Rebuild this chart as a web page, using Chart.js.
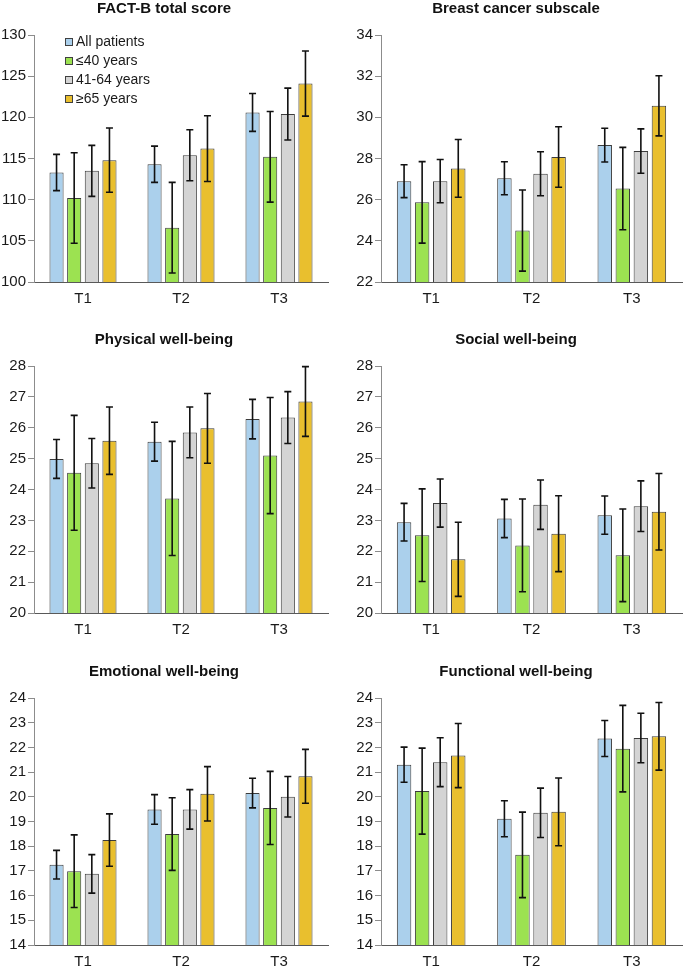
<!DOCTYPE html>
<html>
<head>
<meta charset="utf-8">
<script src="https://cdn.jsdelivr.net/npm/chart.js@4/dist/chart.umd.min.js"></script>
<style>
  body { margin: 0; background: #fff; overflow: hidden; width: 685px; height: 972px; position: relative; }
  canvas { position: absolute; }
</style>
</head>
<body>
<script>
// Categories and groups
const timepoints = ['T1', 'T2', 'T3'];
const groups = ['All patients', '≤40 years', '41-64 years', '≥65 years'];

// Means per group (rows) at T1, T2, T3, and the error bar half-lengths
const totalMean = [[113.3, 114.3, 120.6], [110.2, 106.6, 115.2], [113.5, 115.4, 120.4], [114.8, 116.2, 124.1]];
const totalErr = [[2.2, 2.2, 2.3], [5.5, 5.5, 5.5], [3.1, 3.1, 3.15], [3.9, 4.0, 3.95]];

const breastMean = [[26.9, 27.04, 28.65], [25.87, 24.5, 26.54], [26.9, 27.26, 28.36], [27.52, 28.07, 30.56]];
const breastErr = [[0.8, 0.8, 0.82], [1.98, 1.97, 2.0], [1.05, 1.07, 1.08], [1.4, 1.47, 1.46]];

const physicalMean = [[24.99, 25.55, 26.28], [24.54, 23.71, 25.1], [24.85, 25.85, 26.33], [25.58, 25.98, 26.85]];
const physicalErr = [[0.63, 0.63, 0.64], [1.86, 1.85, 1.88], [0.8, 0.82, 0.84], [1.09, 1.13, 1.13]];

const socialMean = [[22.94, 23.06, 23.17], [22.52, 22.19, 21.87], [23.56, 23.51, 23.46], [21.74, 22.57, 23.28]];
const socialErr = [[0.61, 0.62, 0.62], [1.5, 1.5, 1.5], [0.78, 0.8, 0.82], [1.2, 1.23, 1.24]];

const emotionalMean = [[17.25, 19.49, 20.15], [16.99, 18.49, 19.55], [16.88, 19.49, 20.0], [18.25, 20.12, 20.83]];
const emotionalErr = [[0.58, 0.6, 0.6], [1.47, 1.47, 1.48], [0.78, 0.8, 0.82], [1.06, 1.1, 1.09]];

const functionalMean = [[21.3, 19.11, 22.36], [20.23, 17.65, 21.95], [21.4, 19.35, 22.38], [21.67, 19.39, 22.45]];
const functionalErr = [[0.71, 0.73, 0.73], [1.74, 1.73, 1.75], [0.99, 1.0, 1.0], [1.3, 1.37, 1.37]];

const groupColors = ['#abd0ec', '#9ce251', '#d4d4d4', '#e9bf2e'];

Chart.defaults.font.family = '"Liberation Sans", Arial, sans-serif';
Chart.defaults.color = '#1a1a1a';

// error bars drawn through the y scale
const errorBars = {
  id: 'errorBars',
  afterDatasetsDraw(chart) {
    const ctx = chart.ctx;
    const y = chart.scales.y;
    ctx.save();
    ctx.strokeStyle = '#111';
    ctx.lineWidth = 1.6;
    chart.data.datasets.forEach((ds, i) => {
      chart.getDatasetMeta(i).data.forEach((bar, j) => {
        const hi = y.getPixelForValue(ds.data[j] + ds.errors[j]);
        const lo = y.getPixelForValue(ds.data[j] - ds.errors[j]);
        ctx.beginPath();
        ctx.moveTo(bar.x, hi); ctx.lineTo(bar.x, lo);
        ctx.moveTo(bar.x - 3.5, hi); ctx.lineTo(bar.x + 3.5, hi);
        ctx.moveTo(bar.x - 3.5, lo); ctx.lineTo(bar.x + 3.5, lo);
        ctx.stroke();
      });
    });
    ctx.restore();
  }
};

// legend inside the plot area (first panel only)
const insideLegend = {
  id: 'insideLegend',
  afterDraw(chart, args, opts) {
    if (!opts.show) return;
    const { ctx, chartArea } = chart;
    ctx.save();
    ctx.font = '14px "Liberation Sans", Arial, sans-serif';
    ctx.textBaseline = 'middle';
    chart.data.datasets.forEach((ds, i) => {
      const x = chartArea.left + 31;
      const yy = chartArea.top + 7 + i * 19;
      ctx.fillStyle = ds.backgroundColor;
      ctx.fillRect(x, yy - 4, 8, 8);
      ctx.strokeStyle = '#404040';
      ctx.lineWidth = 1;
      ctx.strokeRect(x + 0.5, yy - 3.5, 7, 7);
      ctx.fillStyle = '#1a1a1a';
      ctx.fillText(ds.label, x + 11, yy + 0.5);
    });
    ctx.restore();
  }
};

function makePanel(left, top, width, axisWidth, padRight, title, means, errs, min, max, step, legend) {
  const cv = document.createElement('canvas');
  cv.width = width;
  cv.height = 310;
  cv.style.left = left + 'px';
  cv.style.top = top + 'px';
  document.body.appendChild(cv);

  new Chart(cv, {
    type: 'bar',
    data: {
      labels: timepoints,
      datasets: groups.map((g, i) => ({
        label: g,
        data: means[i],
        errors: errs[i],
        backgroundColor: groupColors[i],
        borderColor: '#3c3c3c',
        borderWidth: 1,
        categoryPercentage: 0.72,
        barPercentage: 0.8
      }))
    },
    options: {
      responsive: false,
      animation: false,
      layout: { padding: { left: 0, right: padRight, top: 0, bottom: 0 } },
      plugins: {
        legend: { display: false },
        tooltip: { enabled: false },
        title: {
          display: true,
          text: title,
          font: { size: 15, weight: 'bold' },
          color: '#111',
          padding: { top: 0, bottom: 17 }
        },
        insideLegend: { show: legend }
      },
      scales: {
        x: {
          grid: { display: false, drawTicks: false, tickLength: 0 },
          border: { display: true, color: '#595959', width: 1 },
          ticks: { font: { size: 15 }, padding: 8 },
          afterFit: s => { s.height = 28; }
        },
        y: {
          min: min,
          max: max,
          ticks: { stepSize: step, font: { size: 15 }, padding: 2 },
          grid: { drawOnChartArea: false, drawTicks: true, tickLength: 6, color: '#8c8c8c' },
          border: { display: true, color: '#8c8c8c', width: 1 },
          afterFit: s => { s.width = axisWidth; }
        }
      }
    },
    plugins: [errorBars, insideLegend]
  });
}

makePanel(0, 0, 336, 34, 8, 'FACT-B total score', totalMean, totalErr, 100, 130, 5, true);
makePanel(350, 0, 335, 31, 3, 'Breast cancer subscale', breastMean, breastErr, 22, 34, 2, false);
makePanel(0, 331, 336, 34, 8, 'Physical well-being', physicalMean, physicalErr, 20, 28, 1, false);
makePanel(350, 331, 335, 31, 3, 'Social well-being', socialMean, socialErr, 20, 28, 1, false);
makePanel(0, 663, 336, 34, 8, 'Emotional well-being', emotionalMean, emotionalErr, 14, 24, 1, false);
makePanel(350, 663, 335, 31, 3, 'Functional well-being', functionalMean, functionalErr, 14, 24, 1, false);
</script>
</body>
</html>
